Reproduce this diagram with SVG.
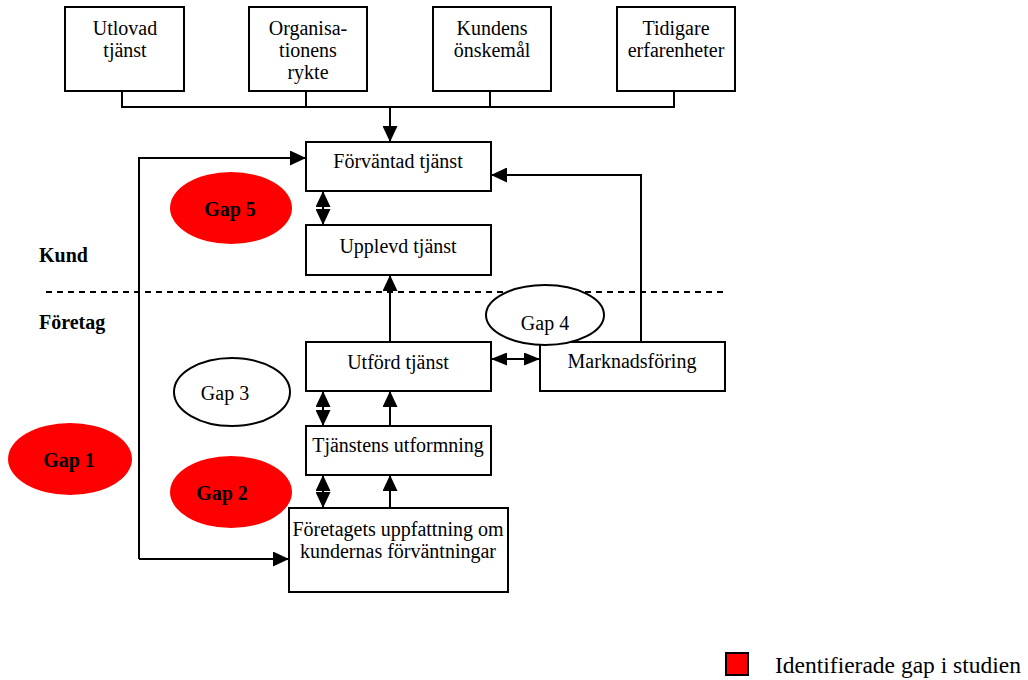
<svg xmlns="http://www.w3.org/2000/svg" width="1028" height="680" viewBox="0 0 1028 680">
<style>
.box{fill:#fff;stroke:#000;stroke-width:2}
.ln{fill:none;stroke:#000;stroke-width:2}
.t{font-family:"Liberation Serif","Times New Roman",serif;font-size:20px;fill:#000;text-anchor:middle}
.b{font-weight:bold}
.red{fill:#ff0000;stroke:none}
.wh{fill:#fff;stroke:#000;stroke-width:2}
</style>
<defs>
<marker id="ah" markerUnits="userSpaceOnUse" markerWidth="16" markerHeight="15" refX="16" refY="7.5" orient="auto-start-reverse">
<path d="M0,0 L16,7.5 L0,15 z" fill="#000"/>
</marker>
<marker id="ahs" markerUnits="userSpaceOnUse" markerWidth="16" markerHeight="13" refX="16" refY="6.5" orient="auto-start-reverse">
<path d="M0,0 L16,6.5 L0,13 z" fill="#000"/>
</marker>
</defs>
<rect width="1028" height="680" fill="#fff"/>

<g id="connectors">
<path class="ln" d="M122,92 V107 H674 V92 M306,92 V107 M490,92 V107"/>
<line class="ln" x1="390" y1="107" x2="390" y2="142" marker-end="url(#ah)"/>
<path class="ln" d="M139,559 V158 H306" marker-end="url(#ah)"/>
<line class="ln" x1="139" y1="559" x2="289" y2="559" marker-end="url(#ah)"/>
<path class="ln" d="M641,342 V175 H491" marker-end="url(#ah)"/>
<line class="ln" x1="323" y1="191" x2="323" y2="225" marker-start="url(#ah)" marker-end="url(#ah)"/>
<line class="ln" x1="390" y1="342" x2="390" y2="275" marker-end="url(#ah)"/>
<line class="ln" x1="491" y1="359" x2="540" y2="359" marker-start="url(#ahs)" marker-end="url(#ahs)"/>
<line class="ln" x1="323" y1="391" x2="323" y2="426" marker-start="url(#ah)" marker-end="url(#ah)"/>
<line class="ln" x1="390" y1="426" x2="390" y2="391" marker-end="url(#ah)"/>
<line class="ln" x1="323" y1="475" x2="323" y2="508" marker-start="url(#ah)" marker-end="url(#ah)"/>
<line class="ln" x1="390" y1="508" x2="390" y2="475" marker-end="url(#ah)"/>
<line x1="46" y1="292" x2="725" y2="292" stroke="#000" stroke-width="2" stroke-dasharray="6,5"/>
</g>

<g id="n-utlovad"><rect class="box" x="65" y="7" width="119" height="84"/><text class="t" x="125" y="35">Utlovad</text><text class="t" x="125" y="57">tjänst</text></g>
<g id="n-organisationens"><rect class="box" x="249" y="7" width="118" height="84"/><text class="t" x="308" y="35">Organisa-</text><text class="t" x="308" y="57">tionens</text><text class="t" x="308" y="79">rykte</text></g>
<g id="n-kundens"><rect class="box" x="433" y="7" width="118" height="84"/><text class="t" x="492" y="35">Kundens</text><text class="t" x="492" y="57">önskemål</text></g>
<g id="n-tidigare"><rect class="box" x="617" y="7" width="118" height="84"/><text class="t" x="676" y="35">Tidigare</text><text class="t" x="676" y="57">erfarenheter</text></g>

<g id="n-forvantad"><rect class="box" x="306" y="142" width="185" height="49"/><text class="t" x="398" y="168">Förväntad tjänst</text></g>
<g id="n-upplevd"><rect class="box" x="306" y="225" width="185" height="50"/><text class="t" x="398" y="253">Upplevd tjänst</text></g>
<g id="n-utford"><rect class="box" x="306" y="342" width="185" height="49"/><text class="t" x="398" y="369">Utförd tjänst</text></g>
<g id="n-marknadsforing"><rect class="box" x="540" y="342" width="185" height="49"/><text class="t" x="632" y="368">Marknadsföring</text></g>
<g id="n-tjanstens"><rect class="box" x="306" y="426" width="185" height="49"/><text class="t" x="398" y="452">Tjänstens utformning</text></g>
<g id="n-foretagets"><rect class="box" x="289" y="508" width="219" height="84"/><text class="t" x="398" y="536">Företagets uppfattning om</text><text class="t" x="398" y="558">kundernas förväntningar</text></g>

<g id="gap5"><ellipse class="red" cx="231" cy="208" rx="61" ry="36"/><text class="t b" x="230" y="216">Gap 5</text></g>
<g id="gap4"><ellipse class="wh" cx="545" cy="315" rx="59" ry="30"/><text class="t" x="545" y="330">Gap 4</text></g>
<g id="gap3"><ellipse class="wh" cx="232" cy="392" rx="58" ry="34"/><text class="t" x="225" y="400">Gap 3</text></g>
<g id="gap1"><ellipse class="red" cx="70" cy="459" rx="62" ry="36"/><text class="t b" x="69" y="467">Gap 1</text></g>
<g id="gap2"><ellipse class="red" cx="231" cy="492" rx="61" ry="36"/><text class="t b" x="222" y="500">Gap 2</text></g>

<g id="labels">
<text class="t b" x="39" y="262" style="text-anchor:start">Kund</text>
<text class="t b" x="39" y="329" style="text-anchor:start">Företag</text>
</g>

<g id="legend">
<rect x="726" y="653" width="22" height="22" fill="#ff0000" stroke="#000" stroke-width="2"/>
<text class="t" x="775" y="673" style="text-anchor:start;font-size:23.5px">Identifierade gap i studien</text>
</g>
</svg>
